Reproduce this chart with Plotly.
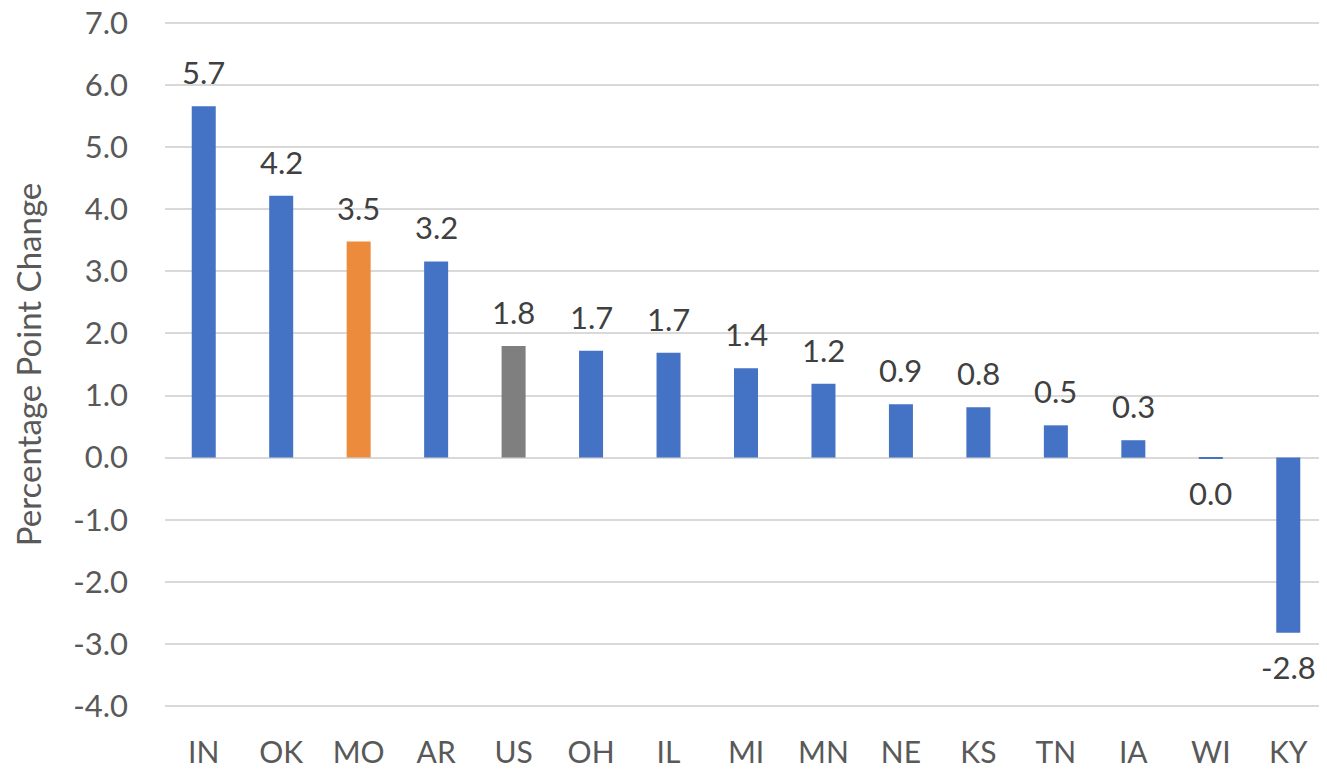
import plotly.graph_objects as go

states = ["IN", "OK", "MO", "AR", "US", "OH", "IL", "MI", "MN", "NE", "KS", "TN", "IA", "WI", "KY"]
values = [5.66, 4.22, 3.48, 3.16, 1.80, 1.72, 1.69, 1.44, 1.19, 0.86, 0.81, 0.52, 0.28, -0.02, -2.82]
labels = ["5.7", "4.2", "3.5", "3.2", "1.8", "1.7", "1.7", "1.4", "1.2", "0.9", "0.8", "0.5", "0.3", "0.0", "-2.8"]
ytick_vals = [-4, -3, -2, -1, 0, 1, 2, 3, 4, 5, 6, 7]
ytick_text = ["-4.0", "-3.0", "-2.0", "-1.0", "0.0", "1.0", "2.0", "3.0", "4.0", "5.0", "6.0", "7.0"]

BLUE = "#4472C4"
ORANGE = "#ED8B3D"
GRAY = "#7F7F7F"
colors = [ORANGE if s == "MO" else GRAY if s == "US" else BLUE for s in states]

FONT = "Lato, 'Open Sans', sans-serif"
TXT = "#595959"

fig = go.Figure()
fig.add_trace(go.Bar(x=states, y=values, marker=dict(color=colors, line=dict(width=0)),
                     hoverinfo="x+y"))

for s, v, lab in zip(states, values, labels):
    fig.add_annotation(x=s, y=v, text=lab, showarrow=False,
                       yanchor="bottom" if v >= 0 else "top",
                       yshift=13 if v >= 0 else -13,
                       font=dict(family=FONT, size=31, color="#404040"))

fig.update_layout(
    width=1319, height=761,
    margin=dict(l=157, r=0, t=12, b=60),
    paper_bgcolor="white", plot_bgcolor="white",
    bargap=0.69,
    showlegend=False,
    font=dict(family=FONT, size=31, color=TXT),
)
fig.update_xaxes(showgrid=False, showline=False, ticks="", ticklabelstandoff=23,
                 automargin=False, ticklabeloverflow="allow",
                 tickfont=dict(family=FONT, size=30, color=TXT))
fig.update_yaxes(range=[-4.05, 7.05], tickvals=ytick_vals, ticktext=ytick_text,
                 automargin=False, ticklabeloverflow="allow",
                 showgrid=True, gridcolor="#D9D9D9", gridwidth=1.5,
                 zeroline=True, zerolinecolor="#D9D9D9", zerolinewidth=1.5,
                 showline=False, ticks="", ticklabelstandoff=36,
                 tickfont=dict(family=FONT, size=31, color=TXT),
                 title=dict(text="Percentage Point Change", standoff=26,
                            font=dict(family=FONT, size=33, color=TXT)))

fig.write_html("out.html")
